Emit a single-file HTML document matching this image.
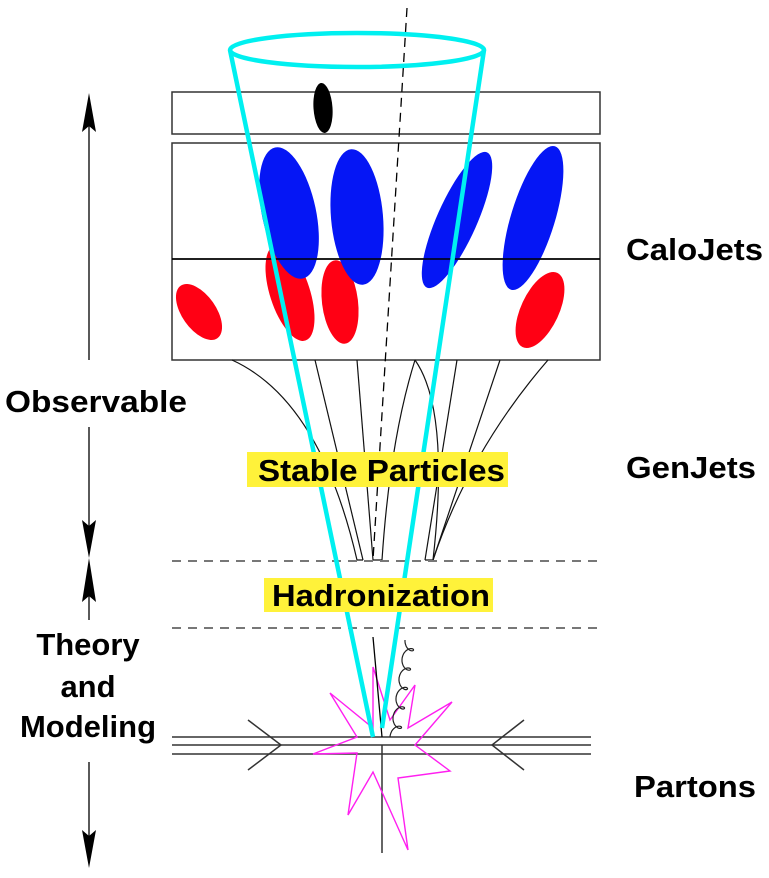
<!DOCTYPE html>
<html><head><meta charset="utf-8"><style>
html,body{margin:0;padding:0;background:#fff;}
svg{display:block;}
text{font-family:"Liberation Sans",Arial,sans-serif;font-weight:bold;fill:#000;}
</style></head><body>
<svg id="d" width="769" height="878" viewBox="0 0 769 878">
<defs>
<marker id="ah" viewBox="0 0 10 20" refX="5" refY="0" markerWidth="10" markerHeight="20" orient="auto-start-reverse" markerUnits="userSpaceOnUse"></marker>
</defs>
<!-- calorimeter boxes -->
<rect x="172" y="92" width="428" height="42" fill="none" stroke="#333" stroke-width="1.5"/>
<rect x="172" y="143" width="428" height="217" fill="none" stroke="#333" stroke-width="1.5"/>
<line x1="172" y1="259" x2="600" y2="259" stroke="#000" stroke-width="1.5"/>
<!-- deposits -->
<ellipse cx="323" cy="108" rx="9.5" ry="25" transform="rotate(-4 323 108)" fill="#000"/>
<g fill="#ff0014">
<ellipse cx="199" cy="312" rx="17" ry="32" transform="rotate(-35 199 312)"/>
<ellipse cx="290" cy="293" rx="20" ry="50" transform="rotate(-18 290 293)"/>
<ellipse cx="340" cy="302" rx="18" ry="42" transform="rotate(-7 340 302)"/>
<ellipse cx="540" cy="310" rx="19" ry="41" transform="rotate(25 540 310)"/>
</g>
<g fill="#0516f5">
<ellipse cx="289" cy="213" rx="27" ry="67" transform="rotate(-12 289 213)"/>
<ellipse cx="357" cy="217" rx="26" ry="68" transform="rotate(-5 357 217)"/>
<ellipse cx="457" cy="220" rx="20" ry="74" transform="rotate(24 457 220)"/>
<ellipse cx="533" cy="218" rx="22" ry="75" transform="rotate(17 533 218)"/>
</g>
<g stroke="#000" stroke-width="1.5"><line x1="172" y1="259" x2="600" y2="259"/></g>
<!-- particle fan -->
<g fill="none" stroke="#111" stroke-width="1.2">
<path d="M232,360 Q320,400 357,560"/>
<path d="M315,360 L363,560"/>
<path d="M357,360 L373,560"/>
<path d="M415,360 Q390,440 382,560"/>
<path d="M415,360 Q450,410 433,560"/>
<path d="M457,360 L425,560"/>
<path d="M500,360 L433,560"/>
<path d="M548,360 Q470,450 433,560"/>
<path d="M357,560 L363,560 M373,560 L382,560 M425,560 L433,560"/>
</g>
<!-- dashed levels -->
<line x1="172" y1="561" x2="600" y2="561" stroke="#777" stroke-width="2" stroke-dasharray="9,7"/>
<line x1="172" y1="628" x2="600" y2="628" stroke="#777" stroke-width="2" stroke-dasharray="9,7"/>
<!-- jet axis -->
<line x1="407" y1="8" x2="373" y2="560" stroke="#000" stroke-width="1.3" stroke-dasharray="9,6"/>
<!-- beams -->
<g stroke="#333" stroke-width="1.5" fill="none">
<line x1="172" y1="737" x2="591" y2="737"/>
<line x1="172" y1="745" x2="591" y2="745"/>
<line x1="172" y1="754" x2="591" y2="754"/>
<path d="M248,720 L281,745 L248,770"/>
<path d="M524,720 L492,745 L524,770"/>
<line x1="382" y1="745" x2="382" y2="853"/>
</g>
<!-- star -->
<polygon fill="none" stroke="#ff1ff0" stroke-width="1.4" points="373,667 390,720 415,685 408,728 452,702 415,745 450,771 398,778 408,850 373,772 348,815 357,753 313,754 357,737 330,693 373,728"/>
<line x1="373" y1="637" x2="382" y2="737" stroke="#000" stroke-width="1.3"/>
<path id="gluon" fill="none" stroke="#222" stroke-width="1.2"/>
<!-- cone -->
<g fill="none" stroke="#00f0f0" stroke-width="4.5">
<ellipse cx="357" cy="50" rx="127" ry="17"/>
<line x1="230" y1="50" x2="373" y2="737"/>
<line x1="484" y1="50" x2="382" y2="728"/>
</g>
<!-- labels -->
<rect x="247" y="452" width="261" height="35" fill="#fff23a"/>
<text x="258" y="481" font-size="31" textLength="247" lengthAdjust="spacingAndGlyphs">Stable Particles</text>
<rect x="264" y="578" width="229" height="34" fill="#fff23a"/>
<text x="272" y="606" font-size="31" textLength="218" lengthAdjust="spacingAndGlyphs">Hadronization</text>
<text x="626" y="260" font-size="31" textLength="137" lengthAdjust="spacingAndGlyphs">CaloJets</text>
<text x="626" y="478" font-size="31" textLength="130" lengthAdjust="spacingAndGlyphs">GenJets</text>
<text x="634" y="797" font-size="31" textLength="122" lengthAdjust="spacingAndGlyphs">Partons</text>
<text x="5" y="412" font-size="31" textLength="182" lengthAdjust="spacingAndGlyphs">Observable</text>
<text x="88" y="655" font-size="31" text-anchor="middle">Theory</text>
<text x="88" y="697" font-size="31" text-anchor="middle">and</text>
<text x="88" y="737" font-size="31" text-anchor="middle">Modeling</text>
<!-- arrows -->
<g stroke="#000" stroke-width="1.3">
<line x1="89" y1="110" x2="89" y2="360"/>
<line x1="89" y1="427" x2="89" y2="540"/>
</g>
<g stroke="#000" stroke-width="1.3">
<line x1="89" y1="580" x2="89" y2="620"/>
<line x1="89" y1="762" x2="89" y2="850"/>
</g>
<g fill="#000">
<polygon points="89,93 96,132 89,126 82,132"/>
<polygon points="89,558 96,520 89,526 82,520"/>
<polygon points="89,558 96,602 89,596 82,602"/>
<polygon points="89,868 96,830 89,836 82,830"/>
</g>
</svg>
<script>
// gluon spiral from (390,737) up to (407,634)
var x0=390,y0=737,x1=405,y1=640,n=5,pts=[];
for(var i=0;i<=400;i++){var t=i/400;var a=t*n*2*Math.PI;
var x=x0+(x1-x0)*t+6*Math.sin(a)*0+ -5*Math.cos(a)+5;
var y=y0+(y1-y0)*t-5*Math.sin(a);
pts.push((i?'L':'M')+x.toFixed(1)+','+y.toFixed(1));}
var g=document.getElementById('gluon');g.setAttribute('d',pts.join(' '));
</script>
</body></html>
